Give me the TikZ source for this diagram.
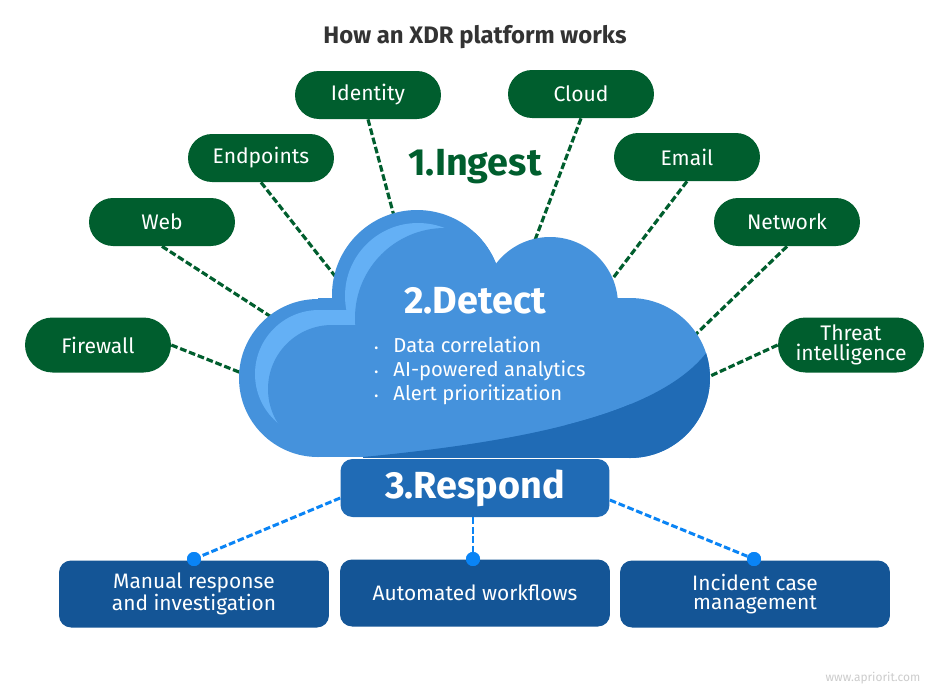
\documentclass[tikz,border=0pt]{standalone}
\usepackage{fontspec}
\setmainfont{Fira Sans}
\definecolor{xgreen}{RGB}{0,94,46}
\definecolor{xmain}{RGB}{69,146,220}
\definecolor{xlight}{RGB}{100,176,245}
\definecolor{xdark}{RGB}{32,107,181}
\definecolor{xnavy}{RGB}{20,85,150}
\definecolor{xdot}{RGB}{10,132,245}
\definecolor{xtitle}{RGB}{51,51,51}
\begin{document}
\begin{tikzpicture}[x=0.02cm,y=-0.02cm,
  pill/.style={fill=xgreen, text=white, rounded corners=0.48cm, minimum width=2.92cm, minimum height=0.96cm, inner sep=0pt, font=\fontsize{12}{11.3}\selectfont, align=center},
  tallpill/.style={pill, rounded corners=0.55cm, minimum height=1.1cm},
  gline/.style={draw=xgreen, line width=1.8pt, dash pattern=on 3.8pt off 1.6pt},
  bline/.style={draw=xdot, line width=1.7pt, dash pattern=on 3.8pt off 1.6pt},
  navybox/.style={fill=xnavy, text=white, rounded corners=0.24cm, minimum width=5.4cm, minimum height=1.34cm, inner sep=0pt, font=\fontsize{11.9}{11.3}\selectfont, align=center},
  bluedot/.style={circle, fill=xdot, minimum size=0.28cm, inner sep=0pt},
  bignum/.style={font=\bfseries\fontsize{21.5}{24}\selectfont}]
\useasboundingbox[fill=white] (0,0) rectangle (950,697);

% title
\node[font=\bfseries\fontsize{13.6}{15}\selectfont, text=xtitle] (title) at (475,37) {How an XDR platform works};

% pills
\node[pill] (identity) at (368,95) {Identity};
\node[pill] (cloud) at (581,94) {Cloud};
\node[pill] (endpoints) at (261,158) {Endpoints};
\node[pill] (email) at (687,157) {Email};
\node[pill] (web) at (162,222) {Web};
\node[pill] (network) at (787,222) {Network};
\node[tallpill] (firewall) at (98,345) {Firewall};
\node[tallpill] (threat) at (851,345) {Threat\\intelligence};

% cloud edge points
\coordinate (cI) at (394,216);
\coordinate (cC) at (535,240);
\coordinate (cE) at (335,276);
\coordinate (cM) at (610,282);
\coordinate (cW) at (276,320);
\coordinate (cN) at (694,336);
\coordinate (cF) at (244,374);
\coordinate (cT) at (706,378);

\draw[gline] (identity.south) -- (cI);
\draw[gline] (cloud.south) -- (cC);
\draw[gline] (endpoints.south) -- (cE);
\draw[gline] (email.south) -- (cM);
\draw[gline] (web.south) -- (cW);
\draw[gline] (network.south) -- (cN);
\draw[gline] (firewall.east) -- (cF);
\draw[gline] (threat.west) -- (cT);

% cloud body
\fill[xmain] (318,378) circle (79);
\fill[xmain] (417,295) circle (85);
\fill[xmain] (550,305) circle (68);
\fill[xmain] (630,378) circle (80);
\fill[xmain] (318,298) rectangle (630,457);
% light highlight
\fill[xlight] (418,296) circle (73);
\fill[xlight] (319,374) circle (64);
\fill[xlight] (319,310) rectangle (418,400);
\fill[xmain] (332,389) circle (64);
\fill[xmain] (332,325) rectangle (450,420);
\begin{scope}
  \clip (417,295) circle (85);
  \fill[xmain] (445,318) circle (90);
\end{scope}
% dark lower part
\begin{scope}
  \clip (630,378) circle (80);
  \fill[xdark] (363,457) .. controls (540,440) and (670,410) .. (712,345) -- (720,345) -- (720,470) -- (363,470) -- cycle;
\end{scope}
\begin{scope}
  \clip (318,298) rectangle (630,457);
  \fill[xdark] (363,457) .. controls (540,440) and (670,410) .. (712,345) -- (720,345) -- (720,470) -- (363,470) -- cycle;
\end{scope}

% texts
\node[bignum, text=xgreen] (ingest) at (475,167) {1.Ingest};
\node[bignum, text=white] (detect) at (475,301) {2.Detect};
\node[anchor=west, text=white, align=left, inner sep=0pt, font=\fontsize{11.5}{13.6}\selectfont] (list) at (374,371)
  {{\scriptsize\textbullet}\hspace{0.75em}Data correlation\\{\scriptsize\textbullet}\hspace{0.75em}AI-powered analytics\\{\scriptsize\textbullet}\hspace{0.75em}Alert prioritization};

% respond
\node[fill=xdark, text=white, rounded corners=0.24cm, minimum width=5.38cm, minimum height=1.16cm, inner sep=0pt, bignum] (respond) at (475,488) {3.Respond};

% bottom boxes
\node[navybox] (manual) at (194,594) {Manual response\\[-0.6pt]and investigation};
\node[navybox] (auto) at (475,593) {Automated workflows};
\node[navybox] (incident) at (755,594) {Incident case\\[-0.6pt]management};

\node[bluedot] (d1) at (194,559) {};
\node[bluedot] (d2) at (473,559) {};
\node[bluedot] (d3) at (754,559) {};

\draw[bline] (respond.west) ++(0,10) coordinate (r1) (r1) -- (d1);
\draw[bline] (respond.south -| d2) -- (d2);
\draw[bline] (respond.east) ++(0,12) coordinate (r3) (r3) -- (d3);
\node[bluedot] at (d1) {};
\node[bluedot] at (d2) {};
\node[bluedot] at (d3) {};

\node[text=black!20, font=\fontsize{6.8}{8}\selectfont] (www) at (873,678) {www.apriorit.com};
\end{tikzpicture}
\end{document}
